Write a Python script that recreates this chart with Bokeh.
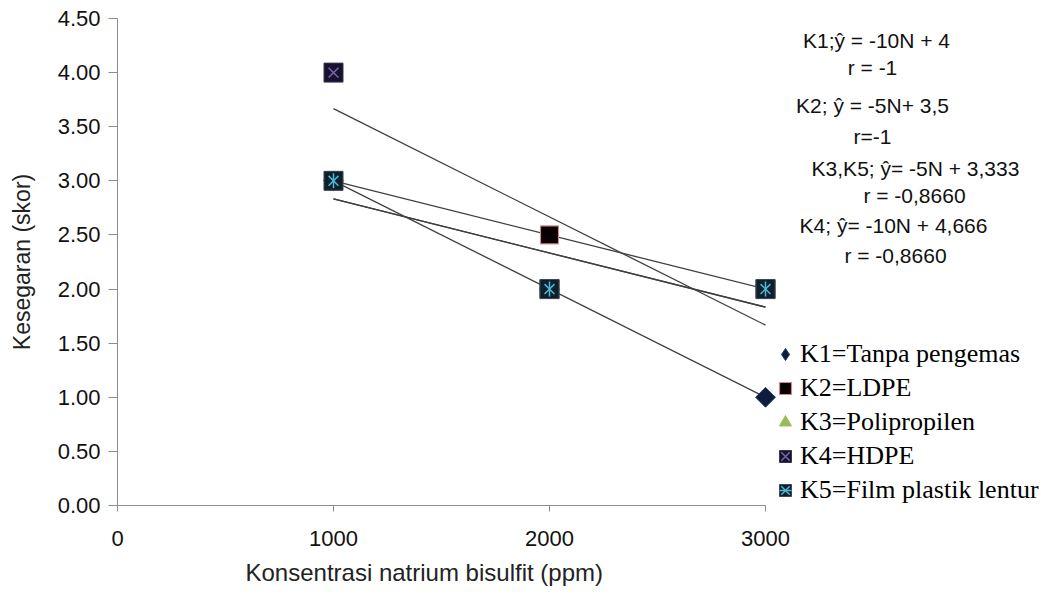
import math
import numpy as np
from bokeh.plotting import figure
from bokeh.models import Range1d, Legend, LegendItem, Label, FixedTicker, NumeralTickFormatter, Title
from bokeh.embed import file_html
from bokeh.resources import INLINE

# ---- data ----
concentration = [1000, 2000, 3000]
series_names = ["K1=Tanpa pengemas", "K2=LDPE", "K3=Polipropilen", "K4=HDPE", "K5=Film plastik lentur"]
k1 = [3.0, 2.0, 1.0]
k2 = [3.0, 2.5, 2.0]
k3 = [3.0, 2.0, 2.0]
k4 = [4.0, 2.0, 2.0]
k5 = [3.0, 2.0, 2.0]
x_ticks = [0, 1000, 2000, 3000]
y_ticks = [0.0, 0.5, 1.0, 1.5, 2.0, 2.5, 3.0, 3.5, 4.0, 4.5]
x_title = "Konsentrasi natrium bisulfit (ppm)"
y_title = "Kesegaran (skor)"
equation_texts = ["K1;ŷ = -10N + 4", "r = -1",
                  "K2; ŷ = -5N+ 3,5", "r=-1",
                  "K3,K5; ŷ= -5N + 3,333", "r = -0,8660",
                  "K4; ŷ= -10N + 4,666", "r = -0,8660"]
# annotation centres in page pixels (x, y)
equation_pos = [(876, 40), (872, 67), (872, 105), (872, 136),
                (915, 168), (914, 195), (893, 225), (895, 255)]

W, H = 1063, 594
FRAME_L, FRAME_R, FRAME_T, FRAME_B = 117, 1060, 18, 505
AXIS_END_PX = 765
x_end = 3000 * (FRAME_R - FRAME_L) / (AXIS_END_PX - FRAME_L)

p = figure(width=W, height=H, x_range=Range1d(0, x_end), y_range=Range1d(0, 4.5),
           output_backend="svg", toolbar_location=None,
           min_border_left=FRAME_L, min_border_right=W - FRAME_R,
           min_border_top=FRAME_T, min_border_bottom=H - FRAME_B)
p.xgrid.visible = False
p.ygrid.visible = False
p.outline_line_color = None
p.background_fill_color = "white"
p.border_fill_color = "white"

axis_color = "#8c8c8c"
for ax in (p.xaxis[0], p.yaxis[0]):
    ax.axis_line_color = axis_color
    ax.major_tick_line_color = axis_color
    ax.minor_tick_line_color = None
    ax.major_tick_in = 0
    ax.major_label_text_font = "Liberation Sans"
    ax.major_label_text_font_size = "22px"
    ax.major_label_text_color = "#111111"
    ax.axis_label_text_font = "Liberation Sans"
    ax.axis_label_text_font_size = "23px"
    ax.axis_label_text_font_style = "normal"
    ax.axis_label_text_color = "#222222"

p.xaxis.ticker = FixedTicker(ticks=x_ticks)
p.xaxis.bounds = (0, 3000)
p.yaxis.ticker = FixedTicker(ticks=y_ticks)
p.yaxis.formatter = NumeralTickFormatter(format="0.00")
p.xaxis.major_tick_out = 6
p.yaxis.major_tick_out = 9
p.xaxis.major_label_standoff = 19
p.yaxis.major_label_standoff = 8
p.yaxis.axis_label = y_title
p.yaxis.axis_label_standoff = 20

# x-axis title positioned under the visible part of the axis
p.add_layout(Title(text=x_title, align="left", offset=128, standoff=16,
                   text_font="Liberation Sans", text_font_size="24px",
                   text_font_style="normal", text_color="#222222"), "below")

# ---- trendlines (least squares from the data) ----
xs = np.array(concentration, dtype=float)
for vals in (k1, k2, k3, k4, k5):
    m, c = np.polyfit(xs, np.array(vals), 1)
    xe = [xs.min(), xs.max()]
    p.line(x=xe, y=[m * xe[0] + c, m * xe[1] + c], line_color="#3f3f3f", line_width=1.3)

# ---- markers ----
r1b = p.scatter(concentration, k1, marker="diamond", size=15,
                fill_color="#0e1c3f", line_color="#1f3468", line_width=1)
r1 = p.scatter(concentration, k1, marker="square", angle=math.pi / 4, size=14,
               fill_color="#0e1c3f", line_color="#1f3468", line_width=1)
r2 = p.scatter(concentration, k2, marker="square", size=18,
               fill_color="#080000", line_color="#d08a8e", line_width=1.2)
r3 = p.scatter(concentration, k3, marker="triangle", size=17,
               fill_color="#9bbb59", line_color="#9bbb59")
r4a = p.scatter(concentration, k4, marker="square", size=19,
                fill_color="#17132e", line_color="#3a3550", line_width=1)
r4b = p.scatter(concentration, k4, marker="x", size=14,
                line_color="#7a64b0", line_width=1.5)
r5a = p.scatter(concentration, k5, marker="square", size=19,
                fill_color="#0f1f2b", line_color="#3a4a55", line_width=1)
r5b = p.scatter(concentration, k5, marker="x", size=14,
                line_color="#4bb8d6", line_width=1.5)
r5c = p.scatter(concentration, k5, marker="dash", angle=math.pi / 2, size=15,
                line_color="#4bb8d6", line_width=1.5)

# ---- legend ----
items = [LegendItem(label=series_names[0], renderers=[r1b]),
         LegendItem(label=series_names[1], renderers=[r2]),
         LegendItem(label=series_names[2], renderers=[r3]),
         LegendItem(label=series_names[3], renderers=[r4a, r4b]),
         LegendItem(label=series_names[4], renderers=[r5a, r5b, r5c])]
legend = Legend(items=items, location=(770 - FRAME_L, 0),
                glyph_width=30, glyph_height=30, label_standoff=0, spacing=4,
                padding=0, margin=0, border_line_color=None, background_fill_alpha=0,
                label_text_font="Liberation Serif", label_text_font_size="26px",
                label_text_color="#000000", label_height=30)
p.add_layout(legend, "center")

# ---- equations ----
for txt, (px, py) in zip(equation_texts, equation_pos):
    p.add_layout(Label(x=px - FRAME_L, y=FRAME_B - py, x_units="screen", y_units="screen",
                       text=txt, text_align="center", text_baseline="middle",
                       text_font="Liberation Sans", text_font_size="21px",
                       text_color="#111111"))

open("out.html", "w").write(file_html(p, INLINE))
